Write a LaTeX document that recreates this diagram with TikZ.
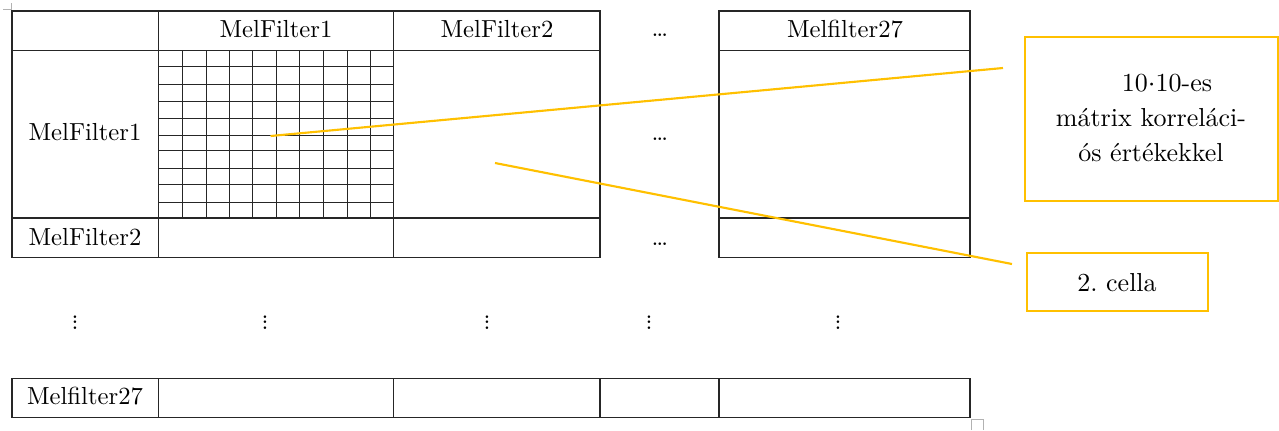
\documentclass[tikz,border=0pt]{standalone}
\usepackage{fontspec}
\setmainfont{lmroman10-regular.otf}
\begin{document}
\begin{tikzpicture}[x=0.75pt,y=-0.75pt]
\definecolor{amber}{HTML}{FFC000}
\tikzset{
  tbl/.style={line width=1pt,draw=black!85},
  gridline/.style={line width=0.85pt,draw=black!85},
  lbl/.style={font=\fontsize{18.5}{22}\selectfont,inner sep=0pt,anchor=base},
  dotsym/.style={font=\fontsize{18.5}{22}\selectfont,inner sep=0pt},
  callout/.style={draw=amber,line width=1.5pt,inner sep=0pt},
  leader/.style={draw=amber,line width=1.6pt},
  note/.style={font=\fontsize{19.5}{26.6}\selectfont,inner sep=0pt,align=center},
  marker/.style={draw=black!30,line width=0.6pt}}
\useasboundingbox (0,0) rectangle (1279,430);

% page boundary marks
\draw[marker] (3,9) -- (11.5,9) -- (11.5,3);
\draw[marker] (971.5,430) -- (971.5,419.5) -- (983,419.5) -- (983,430);

% upper table: first block of columns
\draw[tbl] (12,11) rectangle (600,257.5);
\draw[tbl] (12,50.5) -- (600,50.5);
\draw[tbl] (12,218) -- (600,218);
\draw[tbl] (158.5,11) -- (158.5,257.5);
\draw[tbl] (393.5,11) -- (393.5,257.5);

% upper table: last column
\draw[tbl] (719,11) rectangle (970,257.5);
\draw[tbl] (719,50.5) -- (970,50.5);
\draw[tbl] (719,218) -- (970,218);

% 10x10 correlation matrix inside the first cell
\foreach \x in {182.5,206.5,229.5,252.5,276.5,299.5,323.5,347.5,370.5}
  \draw[gridline] (\x,50.5) -- (\x,218);
\foreach \y in {66.5,84.5,101.5,118.5,135.5,150.5,168.5,184.5,202.5}
  \draw[gridline] (158.5,\y) -- (393.5,\y);

% lower table row
\draw[tbl] (12,378.5) rectangle (970,417.5);
\foreach \x in {158.5,393.5,600,719} \draw[tbl] (\x,378.5) -- (\x,417.5);

% headers
\node[lbl] (h1) at (276,37.5) {MelFilter1};
\node[lbl] (h2) at (497,37.5) {MelFilter2};
\node[lbl] (h27) at (845,37.5) {Melfilter27};
\node[lbl] (r1) at (85,140.5) {MelFilter1};
\node[lbl] (r2) at (85,245) {MelFilter2};
\node[lbl] (r27) at (85,404) {Melfilter27};

% ellipses
\node[dotsym,anchor=base] (hd) at (660,36.5) {\ldots};
\node[dotsym,anchor=base] (md) at (660,140.5) {\ldots};
\node[dotsym,anchor=base] (ld) at (660,245.5) {\ldots};
\foreach \x/\n in {75/v1,265/v2,487/v3,649/v4,838/v5}
  \node[dotsym] (\n) at (\x,318.5) {$\vdots$};

% callouts
\node[callout,minimum width=189.4pt,minimum height=123pt] (c1) at (1151.25,119) {};
\node[note] (t1) at (1151,118) {\hspace*{24pt}10$\cdot$10-es\\mátrix korreláci-\\ós értékekkel};
\node[callout,minimum width=135.75pt,minimum height=43.1pt] (c2) at (1117.2,282) {};
\node[note,anchor=base] (t2) at (1117,291.5) {2.\ cella};

% leader lines
\coordinate (m1) at (270.5,136);
\coordinate (e1) at (1003,68);
\coordinate (m2) at (495,163);
\coordinate (e2) at (1012,264);
\draw[leader] (m1) -- (e1);
\draw[leader] (m2) -- (e2);
\end{tikzpicture}
\end{document}
